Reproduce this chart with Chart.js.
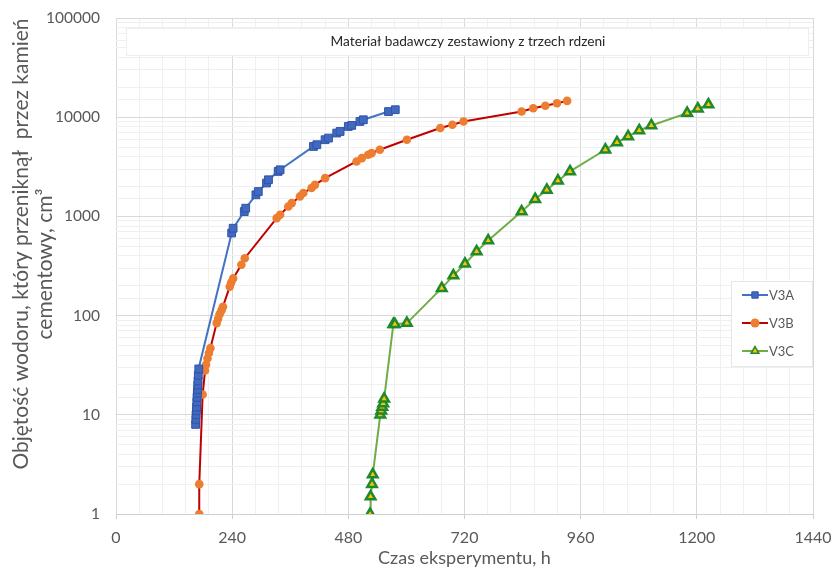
<!DOCTYPE html>
<html><head><meta charset="utf-8">
<script src="https://cdn.jsdelivr.net/npm/chart.js@4.4.1/dist/chart.umd.min.js"></script>
<style>html,body{margin:0;padding:0;background:#fff}</style>
</head><body>
<canvas id="c" width="833" height="570"></canvas>
<script>
const chartTitle = 'Materiał badawczy zestawiony z trzech rdzeni';
const xTitle = 'Czas eksperymentu, h';
const yTitleLines = ['Objętość wodoru, który przeniknął  przez kamień', 'cementowy, cm³'];
const seriesNames = ['V3A', 'V3B', 'V3C'];
const xTickLabels = [0, 240, 480, 720, 960, 1200, 1440];
const yTickLabels = [1, 10, 100, 1000, 10000, 100000];

const v3aTime = [164.5,165,165.5,166,166.5,167,167.5,168,168.5,169,169.5,170,171, 239,242, 265,268, 289,294, 311,315, 335,339, 408,415, 432,439, 456,463, 480,487, 504,511, 563,577];
const v3aVol  = [8,9,10,11,12,13.5,15,16.5,18,20,22,25,29, 680,760, 1120,1210, 1650,1780, 2170,2340, 2840,2950, 5070,5280, 5930,6160, 6920,7180, 8070,8260, 9060,9420, 11400,11900];

const v3bTime = [172,172,179, 184,186,189,192,195, 208,211,214,218,221, 235,238,242, 259,266, 332,339, 356,363, 380,387, 404,411, 432, 497,508, 521,528, 545, 601, 670,695,718, 838,862,887,911,932];
const v3bVol  = [1,2,16, 28,32,37,42,47, 84,93,103,113,123, 196,215,237, 325,379, 960,1040, 1260,1360, 1590,1720, 1930,2080, 2430, 3580,3870, 4180,4340, 4700, 5920, 7770,8400,9060, 11400,12300,13050,13800,14600];

const v3cTime = [525,526,529,530.5, 546,548,550,552,554, 573,576,601, 673,697,721,745,769, 838,866,890,913,938, 1011,1035,1058,1081,1106, 1180,1202,1224];
const v3cVol  = [1,1.5,2,2.5, 10,11,12,13,14.5, 82,82,84, 189,253,333,443,571, 1120,1490,1850,2290,2840, 4700,5560,6400,7350,8260, 11000,12200,13400];

const FONT = 'Lato, "Open Sans", sans-serif';
const GRAY = '#595959';

function pts(xs, ys) { return xs.map((x, i) => ({x: x, y: ys[i]})); }
function isDecade(v) { const l = Math.log10(v); return Math.abs(l - Math.round(l)) < 1e-9; }

const overlay = {
  id: 'overlay',
  beforeDatasetsDraw(chart) {
    const ctx = chart.ctx, a = chart.chartArea;
    ctx.save();
    const bx = a.left + 10, by = a.top + 10, bw = a.right - a.left - 15, bh = 27;
    ctx.fillStyle = '#ffffff';
    ctx.fillRect(bx, by, bw, bh);
    ctx.strokeStyle = '#eeeeee';
    ctx.lineWidth = 1;
    ctx.strokeRect(bx + 0.5, by + 0.5, bw, bh);
    ctx.fillStyle = '#262626';
    ctx.font = '13.7px ' + FONT;
    ctx.textAlign = 'center';
    ctx.textBaseline = 'middle';
    ctx.fillText(chartTitle, 468, by + bh / 2);
    ctx.restore();
  },
  afterDatasetsDraw(chart) {
    const ctx = chart.ctx, a = chart.chartArea;
    ctx.save();
    const lx = 731, ly = 281, lw = a.right - 731, lh = 85;
    ctx.fillStyle = '#ffffff';
    ctx.fillRect(lx, ly, lw, lh);
    ctx.strokeStyle = '#e6e6e6';
    ctx.lineWidth = 1;
    ctx.strokeRect(lx + 0.5, ly + 0.5, lw - 1, lh);
    chart.data.datasets.forEach((ds, i) => {
      const yy = 295 + i * 28;
      ctx.strokeStyle = ds.borderColor;
      ctx.lineWidth = 2;
      ctx.beginPath(); ctx.moveTo(742, yy); ctx.lineTo(768, yy); ctx.stroke();
      ctx.fillStyle = ds.pointBackgroundColor;
      ctx.strokeStyle = ds.pointBorderColor;
      ctx.lineWidth = Math.min(ds.pointBorderWidth, 1.5);
      Chart.helpers.drawPoint(ctx, {pointStyle: ds.pointStyle, radius: 4.5, rotation: 0, borderWidth: ds.pointBorderWidth}, 755, yy);
      ctx.fillStyle = GRAY;
      ctx.font = '13px ' + FONT;
      ctx.textAlign = 'left';
      ctx.textBaseline = 'middle';
      ctx.fillText(ds.label, 769, yy + 1);
    });
    ctx.restore();
  },
  afterDraw(chart) {
    const ctx = chart.ctx;
    ctx.save();
    ctx.fillStyle = GRAY;
    ctx.font = '21px ' + FONT;
    ctx.textAlign = 'center';
    ctx.textBaseline = 'middle';
    ctx.translate(21, 244);
    ctx.rotate(-Math.PI / 2);
    ctx.fillText(yTitleLines[0], 0, 0);
    ctx.fillText(yTitleLines[1], -20, 24);
    ctx.restore();
  }
};

new Chart(document.getElementById('c'), {
  type: 'scatter',
  data: {
    datasets: [
      {label: seriesNames[0], data: pts(v3aTime, v3aVol), showLine: true,
       borderColor: '#4472C4', borderWidth: 2, pointStyle: 'rect', pointRadius: 5.5,
       pointBackgroundColor: '#4169C0', pointBorderColor: '#2F54A8', pointBorderWidth: 1},
      {label: seriesNames[1], data: pts(v3bTime, v3bVol), showLine: true,
       borderColor: '#C00000', borderWidth: 2, pointStyle: 'circle', pointRadius: 4.3,
       pointBackgroundColor: '#ED7D31', pointBorderColor: '#ED7D31', pointBorderWidth: 0},
      {label: seriesNames[2], data: pts(v3cTime, v3cVol), showLine: true,
       borderColor: '#70AD47', borderWidth: 2, pointStyle: 'triangle', pointRadius: 5.5,
       pointBackgroundColor: '#FFC000', pointBorderColor: '#1E8A2E', pointBorderWidth: 2.5}
    ]
  },
  options: {
    responsive: false,
    animation: false,
    devicePixelRatio: 1,
    layout: {padding: {top: 18, right: 20, bottom: 0, left: 0}},
    plugins: {legend: {display: false}, tooltip: {enabled: false}},
    scales: {
      x: {
        type: 'linear', min: 0, max: 1440,
        afterFit(s) { s.height = 56; s.paddingLeft = 0; s.paddingRight = 0; },
        ticks: {stepSize: 48, autoSkip: false, maxRotation: 0, padding: 9, color: GRAY,
          font: {family: FONT, size: 16},
          callback(v) { return xTickLabels.includes(v) ? String(v) : ''; }},
        grid: {
          color(c) { return (c.tick && xTickLabels.includes(c.tick.value)) ? '#d9d9d9' : '#f0f0f0'; },
          tickColor(c) { return (c.tick && xTickLabels.includes(c.tick.value)) ? '#d0d0d0' : 'rgba(0,0,0,0)'; },
          tickLength: 5, lineWidth: 1
        },
        border: {display: true, color: '#d0d0d0', width: 1},
        title: {display: true, text: xTitle, color: GRAY, font: {family: FONT, size: 18}, padding: {top: 0, bottom: 1}}
      },
      y: {
        type: 'logarithmic', min: 1, max: 100000,
        afterFit(s) { s.width = 116; s.paddingTop = 0; s.paddingBottom = 0; },
        ticks: {autoSkip: false, padding: 16, color: GRAY, font: {family: FONT, size: 15.5},
          callback(v) { return yTickLabels.includes(v) ? String(v) : ''; }},
        grid: {
          color(c) { return (c.tick && isDecade(c.tick.value)) ? '#d9d9d9' : '#f0f0f0'; },
          drawTicks: false, lineWidth: 1
        },
        border: {display: false}
      }
    }
  },
  plugins: [overlay]
});
</script>
</body></html>
